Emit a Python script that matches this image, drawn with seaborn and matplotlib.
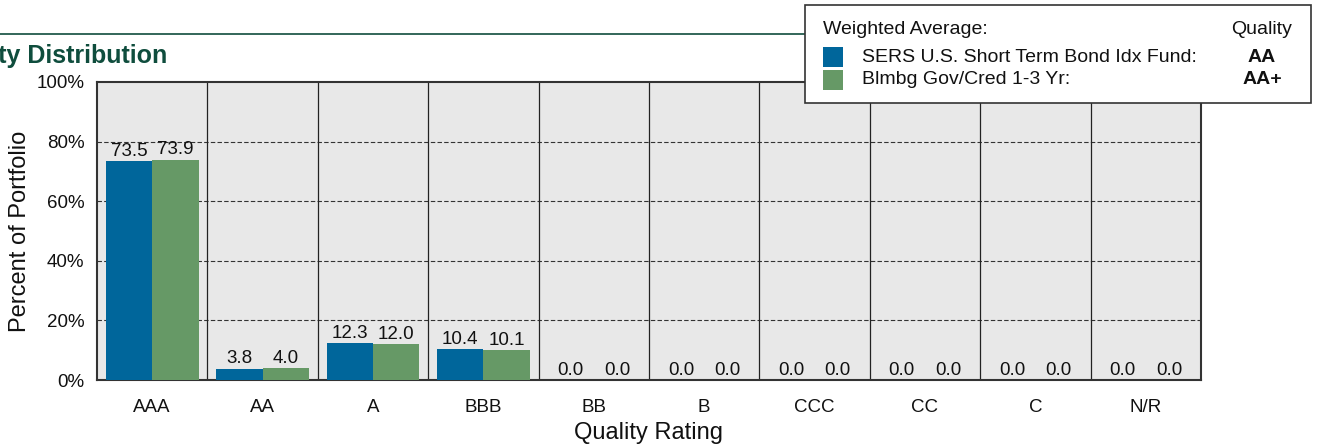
import pandas as pd
import numpy as np
import matplotlib.pyplot as plt
from matplotlib.patches import Rectangle
import seaborn as sns

# data
ratings = ['AAA', 'AA', 'A', 'BBB', 'BB', 'B', 'CCC', 'CC', 'C', 'N/R']
fund_name = 'SERS U.S. Short Term Bond Idx Fund:'
bench_name = 'Blmbg Gov/Cred 1-3 Yr:'
fund_vals = [73.5, 3.8, 12.3, 10.4, 0.0, 0.0, 0.0, 0.0, 0.0, 0.0]
bench_vals = [73.9, 4.0, 12.0, 10.1, 0.0, 0.0, 0.0, 0.0, 0.0, 0.0]
fund_quality = 'AA'
bench_quality = 'AA+'
colors = ['#00669b', '#669966']

df = pd.concat([
    pd.DataFrame({'Rating': ratings, 'Value': fund_vals, 'Series': fund_name}),
    pd.DataFrame({'Rating': ratings, 'Value': bench_vals, 'Series': bench_name}),
])

sns.set_style('white')
plt.rcParams['font.family'] = ['Liberation Sans', 'DejaVu Sans']
plt.rcParams['text.color'] = '#111111'

fig = plt.figure(figsize=(13.17, 4.48), dpi=100)
ax = fig.add_axes([97 / 1317, 1 - 380 / 448, 1104 / 1317, 298 / 448])
ax.set_facecolor('#e8e8e8')

sns.barplot(data=df, x='Rating', y='Value', hue='Series', palette=colors,
            order=ratings, width=0.84, gap=0, ax=ax, legend=False,
            saturation=1, linewidth=0, zorder=3)

for cont in ax.containers:
    ax.bar_label(cont, fmt='%.1f', padding=1, fontsize=13.5, color='#111111')

ax.set_ylim(0, 100)
ax.set_xlim(-0.5, len(ratings) - 0.5)
ax.set_yticks([0, 20, 40, 60, 80, 100])
ax.set_yticklabels(['0%', '20%', '40%', '60%', '80%', '100%'], fontsize=13.5, color='#111111')
ax.tick_params(axis='x', labelsize=13.5, pad=14, length=0, labelcolor='#111111')
ax.tick_params(axis='y', pad=9, length=0)
for y in [20, 40, 60, 80]:
    ax.axhline(y, color='#333333', ls=(0, (4, 2)), lw=0.8, zorder=1)
for i in range(1, len(ratings)):
    ax.axvline(i - 0.5, color='#222222', lw=0.9, zorder=1)
for s in ax.spines.values():
    s.set_color('#333333')
    s.set_linewidth(1.5)
    s.set_visible(True)

ax.set_xlabel('Quality Rating', fontsize=17, labelpad=4, color='#111111')
ax.set_ylabel('Percent of Portfolio', fontsize=17, labelpad=4, color='#111111')

# header line and title
fig.add_artist(plt.Line2D([0, 805 / 1317], [1 - 34 / 448, 1 - 34 / 448],
                          color='#0f4d3d', lw=1.2, transform=fig.transFigure))
fig.text(167 / 1317, 1 - 56 / 448, 'Quality Distribution', ha='right', va='center',
         fontsize=18, fontweight='bold', color='#0f4d3d')

# legend box
fig.add_artist(Rectangle((805 / 1317, 1 - 103 / 448), 506 / 1317, 98 / 448,
                         transform=fig.transFigure, facecolor='white',
                         edgecolor='#333333', lw=1.2, zorder=10))
fig.text(823 / 1317, 1 - 29 / 448, 'Weighted Average:', fontsize=14, va='center', zorder=11)
fig.text(1292 / 1317, 1 - 29 / 448, 'Quality', fontsize=14, va='center', ha='right', zorder=11)
rows = [(fund_name, fund_quality, colors[0], 57), (bench_name, bench_quality, colors[1], 80)]
for name, q, c, yy in rows:
    fig.add_artist(Rectangle((823 / 1317, 1 - (yy + 10) / 448), 20 / 1317, 20 / 448,
                             transform=fig.transFigure, facecolor=c, lw=0, zorder=11))
    fig.text(862 / 1317, 1 - yy / 448, name, fontsize=14, va='center', zorder=11)
    fig.text(1262 / 1317, 1 - yy / 448, q, fontsize=14, va='center', ha='center',
             fontweight='bold', zorder=11)

fig.savefig('out.png', dpi=100)
